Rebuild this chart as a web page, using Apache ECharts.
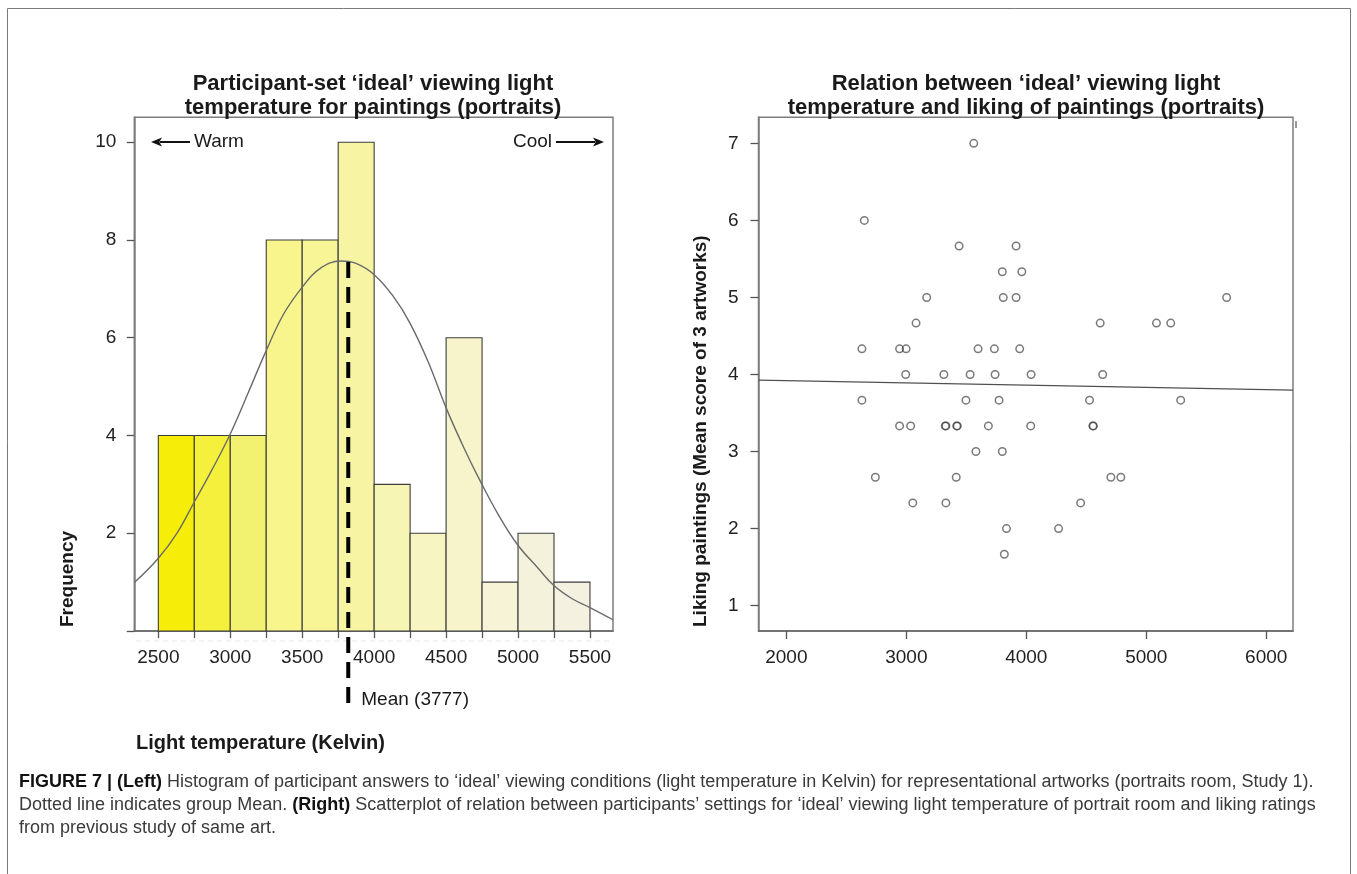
<!DOCTYPE html>
<html><head><meta charset="utf-8">
<script src="https://cdn.jsdelivr.net/npm/echarts@6/dist/echarts.min.js"></script>
<style>html,body{margin:0;padding:0;background:#fff}#c{width:1357px;height:874px}</style>
</head><body><div id="c"></div>
<script>
// ---------- data ----------
const binEdges = [2500, 2750, 3000, 3250, 3500, 3750, 4000, 4250, 4500, 4750, 5000, 5250, 5500];
const binCounts = [4, 4, 4, 8, 8, 10, 3, 2, 6, 1, 2, 1];
const histXLabels = [2500, 3000, 3500, 4000, 4500, 5000, 5500];
const histYTicks = [0, 2, 4, 6, 8, 10];
const histYLabels = [2, 4, 6, 8, 10];
const curveX = [2333, 2500, 2631, 2750, 2866, 3000, 3124, 3246, 3370, 3499, 3616, 3769, 3874, 4000, 4132, 4249, 4378, 4498, 4625, 4749, 4871, 4998, 5141, 5249, 5376, 5500, 5660];
const curveY = [0.99, 1.49, 2.01, 2.64, 3.26, 4.03, 4.87, 5.71, 6.48, 7.03, 7.40, 7.57, 7.52, 7.29, 6.85, 6.30, 5.49, 4.58, 3.74, 3.00, 2.34, 1.76, 1.28, 0.93, 0.66, 0.48, 0.23];
const meanLineX = 3820;
const meanLineTop = 7.55;
const meanLabel = 'Mean (3777)';

const scatterX = [3562, 2650, 3440, 3915, 3800, 3963, 3170, 3808, 3915, 5670,
  3081, 4616, 5085, 5204, 2630, 2944, 2998, 3598, 3734, 3945,
  2995, 3313, 3532, 3740, 4040, 4637, 2630, 3497, 3773, 4527, 5287,
  2944, 3036, 3325, 3330, 3420, 3425, 3684, 4037, 4555, 4559,
  3580, 3800, 2742, 3416, 4705, 4788, 3054, 3330, 4453, 3835, 4269, 3817];
const scatterY = [7, 6, 5.667, 5.667, 5.333, 5.333, 5, 5, 5, 5,
  4.667, 4.667, 4.667, 4.667, 4.333, 4.333, 4.333, 4.333, 4.333, 4.333,
  4, 4, 4, 4, 4, 4, 3.667, 3.667, 3.667, 3.667, 3.667,
  3.333, 3.333, 3.333, 3.333, 3.333, 3.333, 3.333, 3.333, 3.333, 3.333,
  3, 3, 2.667, 2.667, 2.667, 2.667, 2.333, 2.333, 2.333, 2, 2, 1.667];
const fitX = [1768, 6223];
const fitY = [3.926, 3.796];
const scatXLabels = [2000, 3000, 4000, 5000, 6000];
const scatYLabels = [1, 2, 3, 4, 5, 6, 7];

// ---------- styles ----------
const barColors = ['#f6ee08', '#f5f03c', '#f3f270', '#f7f58c', '#f7f596', '#f7f5a3', '#f7f5b4', '#f7f5c2', '#f7f4cc', '#f6f3d6', '#f5f2dc', '#f4f1e1'];
const FAMILY = '"Liberation Sans", Arial, Helvetica, sans-serif';
const boxColor = '#7d7d7d';

const chart = echarts.init(document.getElementById('c'), null, {renderer: 'canvas'});

const axisLab = {fontSize: 19, color: '#222', fontFamily: FAMILY, formatter: v => String(v)};

const option = {
  animation: false,
  backgroundColor: '#fff',
  grid: [
    {left: 134.3, top: 117.3, width: 478.7, height: 513.7, show: true, borderColor: boxColor, borderWidth: 1.5, backgroundColor: 'transparent', containLabel: false},
    {left: 758.5, top: 117.3, width: 534.5, height: 513.7, show: true, borderColor: boxColor, borderWidth: 1.5, backgroundColor: 'transparent', containLabel: false}
  ],
  xAxis: [
    {type: 'value', gridIndex: 0, min: 2333, max: 5660,
      axisLine: {show: true, lineStyle: {color: '#666', width: 1.5}},
      axisTick: {show: true, customValues: binEdges, length: 7, lineStyle: {color: '#555', width: 1.3}},
      axisLabel: Object.assign({customValues: histXLabels, margin: 17}, axisLab),
      splitLine: {show: false}},
    {type: 'value', gridIndex: 1, min: 1768, max: 6223,
      axisLine: {show: true, lineStyle: {color: '#666', width: 1.5}},
      axisTick: {show: true, customValues: scatXLabels, length: 8, lineStyle: {color: '#555', width: 1.3}},
      axisLabel: Object.assign({customValues: scatXLabels, margin: 17}, axisLab),
      splitLine: {show: false}}
  ],
  yAxis: [
    {type: 'value', gridIndex: 0, min: 0, max: 10.51,
      axisLine: {show: true, lineStyle: {color: boxColor, width: 1.5}},
      axisTick: {show: true, customValues: histYTicks, length: 7.6, lineStyle: {color: '#555', width: 1.3}},
      axisLabel: Object.assign({customValues: histYLabels, margin: 18}, axisLab),
      splitLine: {show: false}},
    {type: 'value', gridIndex: 1, min: 0.671, max: 7.338,
      axisLine: {show: true, lineStyle: {color: boxColor, width: 1.5}},
      axisTick: {show: true, customValues: scatYLabels, length: 8, lineStyle: {color: '#555', width: 1.3}},
      axisLabel: Object.assign({customValues: scatYLabels, margin: 20}, axisLab),
      splitLine: {show: false}}
  ],
  series: [
    {type: 'custom', xAxisIndex: 0, yAxisIndex: 0, z: 2,
      data: binCounts.map((c, i) => [binEdges[i], binEdges[i + 1], c, i]),
      encode: {x: [0, 1], y: 2},
      renderItem: function (params, api) {
        const lo = api.value(0), hi = api.value(1), c = api.value(2), i = api.value(3);
        const p0 = api.coord([lo, 0]);
        const p1 = api.coord([hi, c]);
        return {type: 'rect',
          shape: {x: p0[0], y: p1[1], width: p1[0] - p0[0], height: p0[1] - p1[1]},
          style: {fill: barColors[i], stroke: '#3d3d3d', lineWidth: 1.1}};
      }},
    {type: 'line', xAxisIndex: 0, yAxisIndex: 0, z: 3, smooth: 0.4, symbol: 'none',
      data: curveX.map((x, i) => [x, curveY[i]]),
      lineStyle: {color: '#6a6a6a', width: 1.4}},
    {type: 'scatter', xAxisIndex: 1, yAxisIndex: 1, z: 3, symbol: 'circle', symbolSize: 7.5,
      data: scatterX.map((x, i) => [x, scatterY[i]]),
      itemStyle: {color: 'rgba(0,0,0,0)', borderColor: 'rgba(60,60,60,0.85)', borderWidth: 1.5}},
    {type: 'line', xAxisIndex: 1, yAxisIndex: 1, z: 2, symbol: 'none',
      data: fitX.map((x, i) => [x, fitY[i]]),
      lineStyle: {color: '#505050', width: 1.3}}
  ]
};
chart.setOption(option);

// ---------- annotations ----------
const meanTop = chart.convertToPixel({xAxisIndex: 0, yAxisIndex: 0}, [meanLineX, meanLineTop]);
const axisBottom = chart.convertToPixel({xAxisIndex: 0, yAxisIndex: 0}, [meanLineX, 0]);

// caption font fitting to the reference line width
const cv = document.createElement('canvas').getContext('2d');
function tw(t, bold, size) { cv.font = (bold ? 'bold ' : '') + size + 'px ' + FAMILY; return cv.measureText(t).width; }
const cap1b = 'FIGURE 7 | (Left)';
const cap1n = ' Histogram of participant answers to \u2018ideal\u2019 viewing conditions (light temperature in Kelvin) for representational artworks (portraits room, Study 1).';
const cap2a = 'Dotted line indicates group Mean. ';
const cap2b = '(Right)';
const cap2c = ' Scatterplot of relation between participants\u2019 settings for \u2018ideal\u2019 viewing light temperature of portrait room and liking ratings';
const cap3 = 'from previous study of same art.';
const base = 15;
const w1 = tw(cap1b, true, base) + tw(cap1n, false, base);
const capSize = Math.max(13, Math.min(18, base * 1312 / w1));

function txt(x, y, text, o) {
  o = o || {};
  return Object.assign({type: 'text', x: x, y: y, z: 50,
    style: {text: text, fontSize: o.size || 19, fontFamily: FAMILY, fontWeight: o.bold ? 'bold' : 'normal',
      fill: o.fill || '#1a1a1a', textAlign: o.align || 'left', textVerticalAlign: 'middle'}},
    o.extra || {});
}
function arrow(x1, x2, y) {
  const dir = x2 > x1 ? 1 : -1;
  const head = 11, hw = 4.5;
  return [
    {type: 'line', z: 50, shape: {x1: x1, y1: y, x2: x2 - dir * head * 0.8, y2: y}, style: {stroke: '#111', lineWidth: 2}},
    {type: 'polygon', z: 50, shape: {points: [[x2, y], [x2 - dir * head, y - hw], [x2 - dir * head * 0.75, y], [x2 - dir * head, y + hw]]}, style: {fill: '#111'}}
  ];
}

const richB = {fontSize: capSize, fontFamily: FAMILY, fontWeight: 'bold', fill: '#111', lineHeight: 23};
const richN = {fontSize: capSize, fontFamily: FAMILY, fontWeight: 'normal', fill: '#3a3a3a', lineHeight: 23};

const graphics = [
  {type: 'polyline', z: 40, shape: {points: [[7.5, 880], [7.5, 8.5], [1350.5, 8.5], [1350.5, 880]]}, style: {stroke: '#7a7a7a', lineWidth: 1, fill: null}},
  txt(373, 84, 'Participant-set \u2018ideal\u2019 viewing light', {bold: true, size: 22, align: 'center'}),
  txt(373, 108, 'temperature for paintings (portraits)', {bold: true, size: 22, align: 'center'}),
  txt(1026, 84, 'Relation between \u2018ideal\u2019 viewing light', {bold: true, size: 22, align: 'center'}),
  txt(1026, 108, 'temperature and liking of paintings (portraits)', {bold: true, size: 22, align: 'center'}),
  txt(68, 627, 'Frequency', {bold: true, size: 19, extra: {rotation: Math.PI / 2}}),
  txt(701, 627, 'Liking paintings (Mean score of 3 artworks)', {bold: true, size: 19, extra: {rotation: Math.PI / 2}}),
  txt(136, 743, 'Light temperature (Kelvin)', {bold: true, size: 20}),
  txt(194, 142, 'Warm', {size: 19}),
  txt(552, 142, 'Cool', {size: 19, align: 'right'}),
  ...arrow(190, 151, 142),
  ...arrow(556, 604, 142),
  {type: 'line', z: 30, shape: {x1: 136, y1: 641, x2: 612, y2: 641}, style: {stroke: '#e4e4e4', lineWidth: 1, lineDash: [5, 4]}},
  {type: 'line', z: 45, shape: {x1: meanTop[0], y1: meanTop[1], x2: meanTop[0], y2: axisBottom[1] + 75},
    style: {stroke: '#000', lineWidth: 4, lineDash: [16, 9]}},
  txt(meanTop[0] + 13, 700, meanLabel, {size: 19}),
  {type: 'line', z: 45, shape: {x1: 1296, y1: 121, x2: 1296, y2: 128}, style: {stroke: '#555', lineWidth: 1.2}},
  {type: 'text', x: 19, y: 771, z: 50, style: {
    text: '{b|' + cap1b + '}{n|' + cap1n + '}\n{n|' + cap2a + '}{b|' + cap2b + '}{n|' + cap2c + '}\n{n|' + cap3 + '}',
    fontSize: capSize, fontFamily: FAMILY, textVerticalAlign: 'top', lineHeight: 23,
    rich: {b: richB, n: richN}}}
];
chart.setOption({graphic: graphics});
</script>
</body></html>
